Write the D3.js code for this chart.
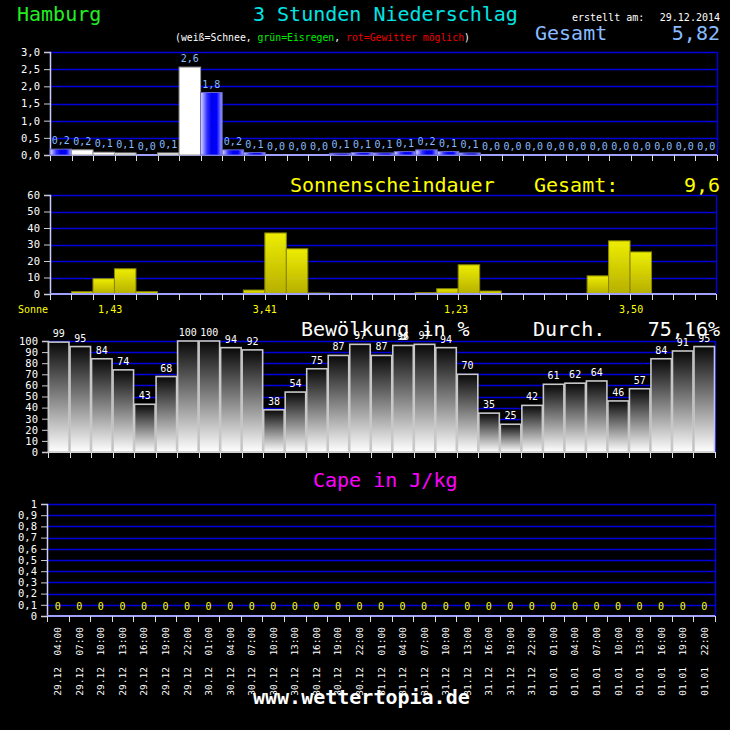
<!DOCTYPE html>
<html><head><meta charset="utf-8">
<script src="https://cdn.jsdelivr.net/npm/d3@7"></script>
<style>
body{margin:0;background:#000}
svg{display:block}
text{font-family:"DejaVu Sans Mono",monospace}
</style>
</head><body>
<script>
// ---------- data ----------
const days = ["29.12","29.12","29.12","29.12","29.12","29.12","29.12",
  "30.12","30.12","30.12","30.12","30.12","30.12","30.12","30.12",
  "31.12","31.12","31.12","31.12","31.12","31.12","31.12","31.12",
  "01.01","01.01","01.01","01.01","01.01","01.01","01.01","01.01"];
const times = ["04:00","07:00","10:00","13:00","16:00","19:00","22:00",
  "01:00","04:00","07:00","10:00","13:00","16:00","19:00","22:00",
  "01:00","04:00","07:00","10:00","13:00","16:00","19:00","22:00",
  "01:00","04:00","07:00","10:00","13:00","16:00","19:00","22:00"];
const precip = [0.17,0.15,0.08,0.06,0.0,0.06,2.56,1.82,0.15,0.07,0,0,0,0.05,0.07,
  0.06,0.1,0.15,0.1,0.06,0,0,0,0,0,0,0,0,0,0,0];
const precipType = ["r","s","s","s","r","s","s","r","r","r","r","r","r","r","r",
  "r","r","r","r","r","r","r","r","r","r","r","r","r","r","r","r"];
const precipTicks = [0,0.5,1,1.5,2,2.5,3];
const sunshine = [0,1.4,9.3,15.3,1.4,0,0,0,0,2.4,37,27.4,0.6,0,0,0,0,0.8,3.2,17.7,1.8,0,0,0,0,11,32.2,25.5,0.2,0,0];
const sunTicks = [0,10,20,30,40,50,60];
const sunDayLabels = ["1,43","3,41","1,23","3,50"];
const sunDayAt = [2.8,10.0,18.9,27.05];
const clouds = [99,95,84,74,43,68,100,100,94,92,38,54,75,87,97,87,96,97,94,70,35,25,42,61,62,64,46,57,84,91,95];
const cloudTicks = [0,10,20,30,40,50,60,70,80,90,100];
const cape = new Array(31).fill(0);
const capeTicks = [0,0.1,0.2,0.3,0.4,0.5,0.6,0.7,0.8,0.9,1];

// ---------- setup ----------
const W = 730, H = 730;
const svg = d3.select("body").append("svg").attr("width", W).attr("height", H);
svg.append("rect").attr("width", W).attr("height", H).attr("fill", "#000");
const defs = svg.append("defs");
const gBlue = defs.append("linearGradient").attr("id","gBlue").attr("x1","0").attr("x2","1").attr("y1","0").attr("y2","0");
[[0,"#e4e4ff"],[0.3,"#3030ff"],[0.5,"#0000ee"],[0.75,"#0000ff"],[1,"#a8a8ff"]].forEach(s=>gBlue.append("stop").attr("offset",s[0]).attr("stop-color",s[1]));
const gSun = defs.append("linearGradient").attr("id","gSun").attr("x1","0").attr("x2","0").attr("y1","0").attr("y2","1");
[[0,"#ffff00"],[1,"#c4bc00"]].forEach(s=>gSun.append("stop").attr("offset",s[0]).attr("stop-color",s[1]));
const gCloud = defs.append("linearGradient").attr("id","gCloud").attr("x1","0").attr("x2","0").attr("y1","0").attr("y2","1");
[[0,"#080808"],[1,"#ffffff"]].forEach(s=>gCloud.append("stop").attr("offset",s[0]).attr("stop-color",s[1]));

const comma = s => s.replace(".", ",");
const N = days.length;

function panel(o){
  const x = d3.scaleBand().domain(d3.range(N)).range([o.left, o.right]).padding(0);
  const y = d3.scaleLinear().domain([o.ticks[0], o.ticks[o.ticks.length-1]]).range([o.bottom, o.top]);
  const grid = svg.append("g");
  grid.selectAll("line").data(o.ticks.filter(t => t > 0)).join("line")
    .attr("x1", o.left).attr("x2", o.right)
    .attr("y1", d => Math.round(y(d)) + 0.5).attr("y2", d => Math.round(y(d)) + 0.5)
    .attr("stroke", "#0000dd").attr("stroke-width", 1.4);
  grid.append("line").attr("x1", o.right + 0.5).attr("x2", o.right + 0.5)
    .attr("y1", o.top).attr("y2", o.bottom).attr("stroke", "#0000dd").attr("stroke-width", 1.4);
  const marks = svg.append("g");
  function axes(){
    const ax = svg.append("g").attr("transform", `translate(${o.left},0)`)
      .call(d3.axisLeft(y).tickValues(o.ticks).tickFormat(o.fmt).tickSize(6).tickPadding(4));
    ax.select(".domain").attr("stroke", "#ccccff").attr("stroke-width", 1.5);
    ax.selectAll(".tick line").attr("stroke", "#cccccc");
    ax.selectAll(".tick text").attr("fill", "#ffffff").attr("font-size", 10.5)
      .attr("font-family", "DejaVu Sans Mono");
    const b = svg.append("g");
    b.append("line").attr("x1", o.left).attr("x2", o.right)
      .attr("y1", y(0)).attr("y2", y(0)).attr("stroke", o.baseColor || "#a0a0ff").attr("stroke-width", 2);
    b.selectAll("line.t").data(d3.range(N + 1)).join("line").attr("class", "t")
      .attr("x1", i => Math.round(o.left + i * x.bandwidth()) + 0.5)
      .attr("x2", i => Math.round(o.left + i * x.bandwidth()) + 0.5)
      .attr("y1", y(0)).attr("y2", y(0) + 6).attr("stroke", "#dddddd").attr("stroke-width", 1);
  }
  return {x, y, marks, axes};
}

// ---------- header ----------
function txt(x, y, s, color, size, anchor, weight){
  return svg.append("text").attr("x", x).attr("y", y).text(s).attr("fill", color)
    .attr("font-size", size).attr("text-anchor", anchor || "start").attr("font-weight", weight || "normal");
}
txt(17, 21, "Hamburg", "#22ee22", 20);
txt(253, 21, "3 Stunden Niederschlag", "#00e4e4", 20);
txt(572, 21, "erstellt am:", "#ffffff", 10);
txt(720, 21, "29.12.2014", "#ffffff", 10, "end");
txt(535, 40, "Gesamt", "#88bbff", 20);
txt(720, 40, "5,82", "#88bbff", 20, "end");
const leg = svg.append("text").attr("x", 175).attr("y", 41).attr("font-size", 9.8).attr("fill", "#ffffff").style("white-space","pre");
leg.append("tspan").text("(weiß=Schnee, ").attr("fill", "#ffffff");
leg.append("tspan").text("grün=Eisregen").attr("fill", "#00ee00");
leg.append("tspan").text(", ").attr("fill", "#ffffff");
leg.append("tspan").text("rot=Gewitter möglich").attr("fill", "#ee0000");
leg.append("tspan").text(")").attr("fill", "#ffffff");

// ---------- precipitation ----------
{
  const p = panel({left: 50, right: 717, top: 52, bottom: 155, ticks: precipTicks,
    fmt: d => comma(d3.format(".1f")(d))});
  p.marks.selectAll("rect").data(precip).join("rect")
    .attr("x", (d, i) => p.x(i)).attr("width", p.x.bandwidth())
    .attr("y", d => p.y(d)).attr("height", d => p.y(0) - p.y(d))
    .attr("fill", (d, i) => precipType[i] === "s" ? "#ffffff" : "url(#gBlue)")
    .attr("stroke", (d, i) => precipType[i] === "s" ? "#999999" : "#6666cc").attr("stroke-width", 1);
  p.axes();
  p.marks.selectAll("text").data(precip).join("text")
    .attr("x", (d, i) => p.x(i) + p.x.bandwidth() / 2).attr("y", d => p.y(d) - 5)
    .attr("text-anchor", "middle").attr("fill", "#88bbff").attr("font-size", 10)
    .text(d => comma((Math.round(d * 10 + 1e-9) / 10).toFixed(1)));
  p.marks.raise();
}

// ---------- sunshine ----------
{
  txt(290, 192, "Sonnenscheindauer", "#ffff00", 20);
  txt(534, 192, "Gesamt:", "#ffff00", 20);
  txt(720, 192, "9,6", "#ffff00", 20, "end");
  const p = panel({left: 50, right: 716, top: 195, bottom: 294, ticks: sunTicks, fmt: d3.format("d")});
  p.marks.selectAll("rect").data(sunshine).join("rect")
    .attr("x", (d, i) => p.x(i)).attr("width", p.x.bandwidth())
    .attr("y", d => p.y(d)).attr("height", d => p.y(0) - p.y(d))
    .attr("fill", "url(#gSun)").attr("fill-opacity", 0.93)
    .attr("stroke", "#8a8600").attr("stroke-width", 1)
    .attr("visibility", d => d > 0 ? "visible" : "hidden");
  p.axes();
  txt(18, 313, "Sonne", "#ffff00", 10);
  svg.append("g").selectAll("text").data(sunDayLabels).join("text")
    .attr("x", (d, i) => p.x(0) + sunDayAt[i] * p.x.bandwidth()).attr("y", 313)
    .attr("text-anchor", "middle").attr("fill", "#ffff00").attr("font-size", 10).text(d => d);
}

// ---------- clouds ----------
{
  txt(301, 336, "Bewölkung in %", "#ffffff", 20);
  txt(533, 336, "Durch.", "#ffffff", 20);
  txt(720, 336, "75,16%", "#ffffff", 20, "end");
  const p = panel({left: 48, right: 715, top: 341, bottom: 452, ticks: cloudTicks, fmt: d3.format("d"), baseColor: "#ffffff"});
  p.marks.selectAll("rect").data(clouds).join("rect")
    .attr("x", (d, i) => p.x(i) + 0.5).attr("width", p.x.bandwidth() - 1)
    .attr("y", d => p.y(d)).attr("height", d => p.y(0) - p.y(d))
    .attr("fill", "url(#gCloud)").attr("stroke", "#c8c8c8").attr("stroke-width", 1.6);
  p.axes();
  p.marks.selectAll("text").data(clouds).join("text")
    .attr("x", (d, i) => p.x(i) + p.x.bandwidth() / 2).attr("y", d => p.y(d) - 5)
    .attr("text-anchor", "middle").attr("fill", "#ffffff").attr("font-size", 10).text(d => d);
  p.marks.raise();
}

// ---------- cape ----------
{
  txt(313, 487, "Cape in J/kg", "#ff00ff", 20);
  const p = panel({left: 47, right: 715, top: 504, bottom: 616, ticks: capeTicks,
    fmt: d => comma(d3.format(".1~f")(d))});
  p.axes();
  p.marks.selectAll("text").data(cape).join("text")
    .attr("x", (d, i) => p.x(i) + p.x.bandwidth() / 2).attr("y", 610)
    .attr("text-anchor", "middle").attr("fill", "#ffff00").attr("font-size", 10).text(d => d);
  p.marks.raise();
  // x labels
  svg.append("g").selectAll("text").data(d3.range(N)).join("text")
    .attr("transform", i => `translate(${p.x(i) + p.x.bandwidth() / 2 + 3.5},627) rotate(-90)`)
    .attr("text-anchor", "end").attr("fill", "#ffffff").attr("font-size", 9.5)
    .style("white-space", "pre")
    .text(i => days[i] + "  " + times[i]);
}

// ---------- watermark ----------
txt(253, 704, "www.wettertopia.de", "#ffffff", 20, "start", "bold");
</script>
</body></html>
